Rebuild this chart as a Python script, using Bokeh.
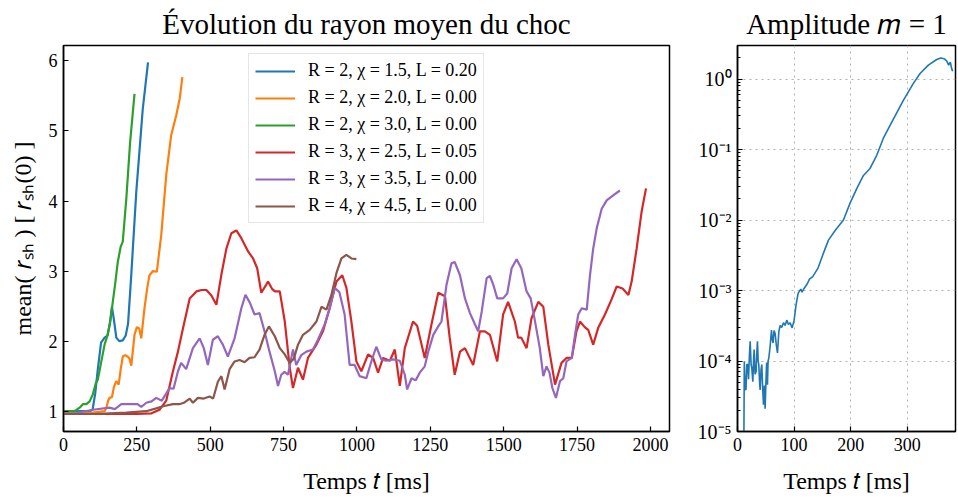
from bokeh.plotting import figure
from bokeh.layouts import row
from bokeh.models import Legend, LegendItem, Range1d, FixedTicker, CustomJSTickFormatter
from bokeh.embed import file_html
from bokeh.resources import INLINE

FONT = "Liberation Serif"

# ---------------- data : mean shock radius (t [ms], r [r_sh(0)]) ----------------
labels = ["R = 2, χ = 1.5, L = 0.20", "R = 2, χ = 2.0, L = 0.00", "R = 2, χ = 3.0, L = 0.00",
          "R = 3, χ = 2.5, L = 0.05", "R = 3, χ = 3.5, L = 0.00", "R = 4, χ = 4.5, L = 0.00"]
colors = ["#1f77b4", "#ff7f0e", "#2ca02c", "#d62728", "#9467bd", "#8c564b"]

blue = [(0, 1.00), (50, 1.00), (90, 1.00), (99, 1.02), (108, 1.25), (117, 1.60), (128, 1.98), (140, 2.05),
        (150, 2.08), (158, 2.25), (165, 2.49), (172, 2.30), (180, 2.05), (190, 2.00), (202, 2.01), (212, 2.08),
        (220, 2.25), (231, 2.95), (248, 4.13), (270, 5.31), (288, 5.98)]
orange = [(0, 0.97), (100, 0.98), (140, 1.00), (146, 1.05), (152, 1.15), (157, 1.19), (165, 1.20), (172, 1.35),
          (180, 1.43), (188, 1.38), (195, 1.60), (202, 1.78), (210, 1.80), (218, 1.78), (225, 1.75), (231, 1.65),
          (242, 2.09), (250, 2.20), (258, 2.18), (265, 2.04), (276, 2.47), (285, 2.75), (293, 2.94), (305, 3.00),
          (318, 2.99), (333, 3.51), (350, 4.37), (367, 4.94), (384, 5.22), (396, 5.46), (405, 5.77)]
green = [(0, 1.00), (38, 1.00), (55, 1.05), (66, 1.10), (78, 1.10), (89, 1.14), (100, 1.24), (110, 1.40),
         (117, 1.45), (128, 1.69), (140, 1.95), (151, 2.10), (160, 2.30), (168, 2.56), (177, 2.85), (185, 3.13),
         (195, 3.35), (202, 3.42), (214, 4.03), (227, 4.84), (242, 5.53)]
red = [(0, 0.96), (150, 0.96), (250, 0.96), (300, 0.97), (327, 1.02), (350, 1.15), (373, 1.57), (390, 1.85),
       (407, 2.18), (430, 2.61), (453, 2.71), (470, 2.73), (487, 2.73), (504, 2.65), (521, 2.52), (538, 2.95),
       (555, 3.32), (572, 3.54), (589, 3.58), (606, 3.47), (629, 3.28), (646, 3.18), (660, 3.04), (674, 2.69),
       (690, 2.80), (697, 2.85), (710, 2.75), (720, 2.71), (737, 2.71), (754, 2.28), (771, 1.62), (782, 1.33),
       (799, 1.62), (816, 1.45), (833, 1.76), (862, 1.95), (884, 2.14), (907, 2.47), (930, 2.85), (950, 2.94),
       (964, 2.76), (981, 2.28), (998, 1.71), (1015, 1.57), (1038, 1.81), (1055, 1.76), (1072, 1.55),
       (1089, 1.76), (1112, 1.72), (1129, 1.88), (1146, 1.36), (1163, 1.90), (1191, 2.28), (1205, 2.22),
       (1231, 1.76), (1254, 2.24), (1277, 2.69), (1300, 2.64), (1316, 2.05), (1333, 1.52), (1351, 1.85),
       (1368, 1.90), (1396, 1.66), (1419, 2.14), (1436, 2.14), (1453, 2.09), (1478, 1.71), (1498, 2.38),
       (1515, 2.56), (1538, 2.28), (1549, 2.05), (1560, 2.05), (1578, 1.90), (1595, 2.33), (1618, 2.56),
       (1635, 2.49), (1652, 1.95), (1675, 1.38), (1697, 1.69), (1714, 1.76), (1732, 1.76), (1748, 2.14),
       (1760, 2.28), (1776, 2.20), (1788, 2.16), (1805, 1.95), (1822, 2.19), (1845, 2.38), (1868, 2.60),
       (1885, 2.78), (1905, 2.75), (1925, 2.66), (1936, 2.85), (1953, 3.32), (1970, 3.85), (1985, 4.18)]
purple = [(0, 0.97), (40, 0.97), (100, 1.02), (157, 1.05), (175, 1.03), (197, 1.10), (230, 1.10), (252, 1.10),
          (265, 1.06), (282, 1.12), (300, 1.14), (316, 1.19), (335, 1.15), (350, 1.25), (361, 1.33), (375, 1.32),
          (390, 1.57), (401, 1.69), (418, 1.60), (441, 1.90), (464, 2.04), (478, 1.90), (492, 1.66), (509, 2.02),
          (526, 2.07), (543, 1.95), (560, 1.78), (583, 2.04), (606, 2.47), (620, 2.66), (635, 2.55), (651, 2.38),
          (668, 2.40), (685, 2.14), (702, 1.85), (720, 1.57), (731, 1.36), (742, 1.52), (753, 1.56), (765, 1.52),
          (782, 1.88), (793, 1.66), (810, 1.80), (828, 1.85), (850, 1.88), (867, 2.02), (890, 2.24), (907, 2.47),
          (924, 2.76), (940, 2.70), (958, 2.38), (975, 1.66), (992, 1.66), (1009, 1.50), (1032, 1.47),
          (1049, 1.71), (1066, 1.92), (1083, 1.74), (1100, 1.72), (1123, 1.74), (1146, 1.72), (1163, 1.52),
          (1171, 1.31), (1186, 1.47), (1200, 1.44), (1214, 1.55), (1231, 1.64), (1243, 1.85), (1260, 2.09),
          (1277, 2.21), (1288, 2.28), (1305, 2.80), (1322, 3.11), (1333, 3.13), (1351, 2.94), (1368, 2.61),
          (1385, 2.40), (1402, 2.24), (1413, 2.14), (1425, 2.42), (1442, 2.90), (1453, 2.93), (1465, 2.80),
          (1478, 2.61), (1498, 2.61), (1512, 2.68), (1527, 3.04), (1544, 3.17), (1560, 3.04), (1578, 2.71),
          (1592, 2.61), (1606, 2.30), (1623, 1.90), (1635, 1.50), (1646, 1.64), (1656, 1.55), (1666, 1.33),
          (1678, 1.19), (1692, 1.43), (1703, 1.47), (1714, 1.71), (1732, 1.76), (1743, 2.09), (1754, 2.38),
          (1766, 2.47), (1783, 2.45), (1794, 2.94), (1805, 3.32), (1817, 3.61), (1834, 3.89), (1851, 4.01),
          (1873, 4.08), (1896, 4.15)]
brown = [(0, 0.96), (100, 0.96), (214, 0.98), (282, 1.00), (316, 1.04), (339, 1.07), (373, 1.10), (395, 1.10),
         (410, 1.12), (430, 1.18), (441, 1.12), (458, 1.19), (478, 1.18), (498, 1.21), (510, 1.18), (526, 1.42),
         (538, 1.50), (549, 1.31), (566, 1.60), (583, 1.71), (600, 1.73), (617, 1.70), (634, 1.76), (651, 1.77),
         (668, 1.88), (685, 2.09), (700, 2.21), (720, 2.07), (737, 1.90), (754, 1.81), (771, 1.69), (785, 1.75),
         (799, 1.95), (816, 2.09), (839, 2.16), (862, 2.28), (879, 2.49), (896, 2.45), (913, 2.66), (930, 2.97),
         (947, 3.18), (964, 3.23), (981, 3.18), (998, 3.17)]
series = [blue, orange, green, red, purple, brown]

x_ticks_left = [0, 250, 500, 750, 1000, 1250, 1500, 1750, 2000]
y_ticks_left = [1, 2, 3, 4, 5, 6]

# ---------------- data : m = 1 amplitude (t [ms], amplitude) ----------------
amp = [(11, 3e-6), (12, 9.8e-5), (13.5, 4.0e-5), (15, 3.9e-5), (16.5, 9.0e-5), (18, 8.9e-5), (19.5, 5.5e-5),
       (21, 1.2e-4), (22.4, 1.9e-4), (24, 9.0e-5), (25.3, 7.9e-5), (27.1, 5.1e-5), (28.5, 1.1e-4),
       (29.4, 1.45e-4), (31, 6.5e-5), (32.9, 7.1e-5), (34, 1.3e-4), (35.3, 1.9e-4), (36.5, 1.0e-4),
       (37.6, 8.9e-5), (39, 5.0e-5), (40, 3.9e-5), (41.5, 7.5e-5), (42.9, 8.9e-5), (44.5, 4.0e-5),
       (45.9, 2.4e-5), (47.5, 4.5e-5), (48.8, 2.1e-5), (50.6, 6.3e-5), (51.5, 9.5e-5), (52.9, 4.6e-5),
       (54, 1.0e-4), (55.3, 1.1e-4), (57.6, 1.6e-4), (60, 2.75e-4), (61.5, 2.0e-4), (62.9, 1.8e-4),
       (64.5, 2.7e-4), (66.5, 2.45e-4), (68.5, 1.7e-4), (70.6, 1.3e-4), (73, 2.6e-4), (75.3, 3.2e-4),
       (78, 3.0e-4), (81.2, 3.5e-4), (84, 3.2e-4), (87, 3.8e-4), (90, 3.3e-4), (92.9, 3.5e-4), (96.5, 2.95e-4),
       (100, 3.8e-4), (103.5, 6.3e-4), (107, 9.1e-4), (111.8, 1.05e-3), (114, 9.5e-4), (117.6, 1.07e-3),
       (123.5, 1.26e-3), (127, 1.45e-3), (132.9, 1.58e-3), (142.4, 2.1e-3), (151.8, 3.4e-3), (160.6, 5.2e-3),
       (172.4, 7.1e-3), (187.1, 1.0e-2), (198.8, 1.74e-2), (210.6, 2.8e-2), (222.4, 4.3e-2), (234.1, 5.4e-2),
       (245.9, 8.3e-2), (257.6, 0.145), (275.3, 0.27), (292.9, 0.50), (310.6, 0.87), (322.4, 1.2),
       (337.1, 1.58), (351.8, 1.9), (358.8, 2.0), (364.7, 1.95), (369.4, 1.82), (372.9, 1.58), (375.9, 1.74),
       (378.2, 1.41), (380, 1.29)]

x_ticks_right = [0, 100, 200, 300]
y_ticks_right = [1e-5, 1e-4, 1e-3, 1e-2, 1e-1, 1e0]


def style(p):
    p.title.text_font = FONT
    p.title.text_font_size = "29px"
    p.title.text_font_style = "normal"
    p.title.text_color = "black"
    p.title.align = "center"
    p.title.offset = 0
    p.title.standoff = 11
    p.outline_line_color = "black"
    p.outline_line_width = 1.5
    p.outline_line_alpha = 1
    for ax in (p.xaxis[0], p.yaxis[0]):
        ax.axis_line_width = 1.5
        ax.axis_line_color = "black"
        ax.major_tick_in = 5
        ax.major_tick_out = 0
        ax.major_tick_line_width = 1.2
        ax.major_tick_line_color = "black"
        ax.major_label_text_font = FONT
        ax.major_label_text_font_size = "18px"
        ax.major_label_text_color = "black"
        ax.major_label_standoff = 6
        ax.axis_label_text_font = FONT
        ax.axis_label_text_font_size = "24px"
        ax.axis_label_text_font_style = "normal"
        ax.axis_label_text_color = "black"
    p.xaxis.axis_label_standoff = 14
    p.yaxis.axis_label_standoff = 10


# ---------------- left figure ----------------
p1 = figure(width=681, height=504, output_backend="svg", toolbar_location=None,
            x_range=Range1d(0, 2065), y_range=Range1d(0.71, 6.22),
            min_border_left=63, min_border_right=12, min_border_bottom=73, min_border_top=43,
            title="Évolution du rayon moyen du choc")
style(p1)
p1.xgrid.visible = False
p1.ygrid.visible = False
p1.xaxis.ticker = FixedTicker(ticks=x_ticks_left)
p1.yaxis.ticker = FixedTicker(ticks=y_ticks_left)
p1.xaxis.minor_tick_line_color = None
p1.yaxis.minor_tick_line_color = None
p1.xaxis.axis_label = "Temps 𝑡 [ms]"
p1.yaxis.axis_label = "mean( 𝑟ₛₕ ) [ 𝑟ₛₕ(0) ]"

items = []
for data, lab, col in zip(series, labels, colors):
    r = p1.line([d[0] for d in data], [d[1] for d in data], line_color=col, line_width=2.2)
    items.append(LegendItem(label=lab, renderers=[r]))

legend = Legend(items=items, location=(185, 208))
legend.label_text_font = FONT
legend.label_text_font_size = "18px"
legend.label_text_color = "black"
legend.glyph_width = 40
legend.glyph_height = 20
legend.label_height = 20
legend.label_standoff = 13
legend.spacing = 6
legend.padding = 6
legend.margin = 0
legend.border_line_color = "#cccccc"
legend.border_line_width = 1.5
legend.background_fill_alpha = 0.85
p1.add_layout(legend)

# ---------------- right figure ----------------
p2 = figure(width=277, height=504, output_backend="svg", toolbar_location=None, y_axis_type="log",
            x_range=Range1d(0, 385), y_range=Range1d(1e-5, 3.0),
            min_border_left=56, min_border_right=3, min_border_bottom=73, min_border_top=43,
            title="Amplitude 𝑚 = 1")
style(p2)
minor = [m * d for d in y_ticks_right for m in range(2, 10)]
p2.yaxis.ticker = FixedTicker(ticks=y_ticks_right, minor_ticks=minor)
p2.xaxis.ticker = FixedTicker(ticks=x_ticks_right)
p2.xaxis.minor_tick_line_color = None
p2.yaxis.minor_tick_in = 3
p2.yaxis.minor_tick_out = 0
p2.yaxis.minor_tick_line_color = "black"
p2.yaxis.major_label_text_font_size = "20px"
p2.yaxis.formatter = CustomJSTickFormatter(code="""
const e = Math.round(Math.log10(tick));
const sup = {'-':'\u207b','0':'\u2070','1':'\u00b9','2':'\u00b2','3':'\u00b3','4':'\u2074','5':'\u2075','6':'\u2076','7':'\u2077','8':'\u2078','9':'\u2079'};
return '10' + String(e).split('').map(c => sup[c]).join('');
""")
p2.xaxis.axis_label = "Temps 𝑡 [ms]"
for g in (p2.xgrid[0], p2.ygrid[0]):
    g.grid_line_color = "#b0b0b0"
    g.grid_line_dash = "dotted"
    g.grid_line_width = 1
p2.line([a[0] for a in amp], [a[1] for a in amp], line_color="#1f77b4", line_width=1.6)

layout = row(p1, p2)
open("out.html", "w").write(file_html(layout, INLINE))
